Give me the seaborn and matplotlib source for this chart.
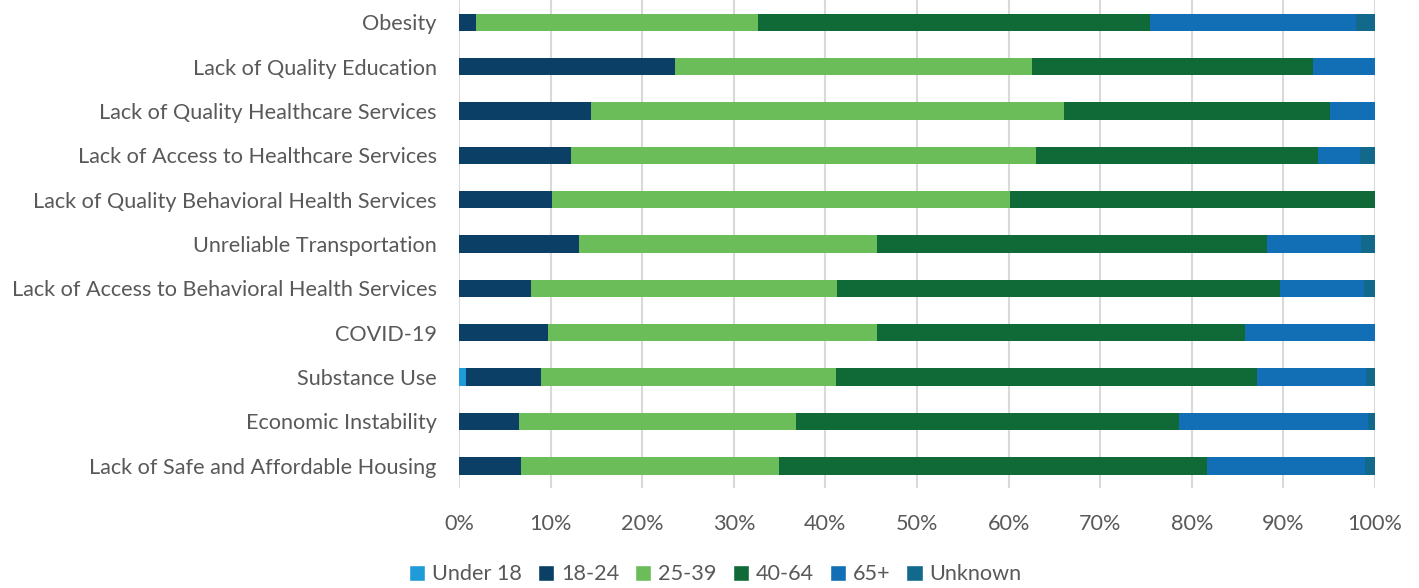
import numpy as np
import pandas as pd
import seaborn as sns
import matplotlib.pyplot as plt
from matplotlib.patches import Patch
import matplotlib.ticker as tick

sns.set_theme(style="white")
plt.rcParams['font.family'] = ['Lato', 'DejaVu Sans']

# data (percent of respondents by age group)
issues = ["Obesity", "Lack of Quality Education", "Lack of Quality Healthcare Services",
          "Lack of Access to Healthcare Services", "Lack of Quality Behavioral Health Services",
          "Unreliable Transportation", "Lack of Access to Behavioral Health Services",
          "COVID-19", "Substance Use", "Economic Instability",
          "Lack of Safe and Affordable Housing"]
age_groups = ["Under 18", "18-24", "25-39", "40-64", "65+", "Unknown"]

under_18 = [0, 0, 0, 0, 0, 0, 0, 0, 0.8, 0, 0]
age_18_24 = [1.9, 23.6, 14.4, 12.2, 10.2, 13.1, 7.9, 9.7, 8.2, 6.5, 6.8]
age_25_39 = [30.7, 39.0, 51.6, 50.8, 50.0, 32.5, 33.4, 35.9, 32.2, 30.3, 28.1]
age_40_64 = [42.8, 30.6, 29.1, 30.8, 39.8, 42.6, 48.3, 40.2, 45.9, 41.8, 46.8]
age_65_up = [22.5, 6.8, 4.9, 4.6, 0, 10.3, 9.2, 14.2, 11.9, 20.6, 17.2]
unknown = [2.1, 0, 0, 1.6, 0, 1.5, 1.2, 0, 1.0, 0.8, 1.1]

colors = ["#1f9bd7", "#0c3f66", "#6abd58", "#0f6a37", "#136fb5", "#12698c"]

df = pd.DataFrame({"Issue": issues, "Under 18": under_18, "18-24": age_18_24,
                   "25-39": age_25_39, "40-64": age_40_64, "65+": age_65_up,
                   "Unknown": unknown})
vals = df[age_groups].to_numpy()
share = vals / vals.sum(axis=1, keepdims=True)
cum = np.cumsum(share, axis=1)

fig = plt.figure(figsize=(14.19, 5.88), dpi=100)
ax = fig.add_axes([0.3235, 0.170, 0.6455, 0.830])

# stacked: draw cumulative totals from last group to first so shorter ones sit on top
for i in range(len(age_groups) - 1, -1, -1):
    sns.barplot(x=cum[:, i], y=df["Issue"], color=colors[i], orient="h",
                width=0.39, saturation=1, ax=ax, linewidth=0)

ax.set_xlim(0, 1)
ax.set_ylim(len(issues) - 0.5, -0.5)
ax.xaxis.set_major_locator(tick.MultipleLocator(0.1))
ax.xaxis.set_major_formatter(tick.PercentFormatter(1.0, decimals=0))
ax.grid(axis="x", color="#d9d9d9", linewidth=1.5)
ax.set_axisbelow(True)
for s in ax.spines.values():
    s.set_visible(False)
ax.set_xlabel("")
ax.set_ylabel("")
ax.tick_params(axis="both", length=0, labelsize=15.6, colors="#595959")
ax.tick_params(axis="x", pad=19)
ax.tick_params(axis="y", pad=16)

handles = [Patch(facecolor=c, label=g) for c, g in zip(colors, age_groups)]
fig.legend(handles=handles, loc="lower center", bbox_to_anchor=(0.504, -0.027),
           ncol=6, frameon=False, fontsize=15.6, handlelength=0.75, handleheight=0.75,
           handletextpad=0.3, columnspacing=0.75, labelcolor="#595959")

fig.savefig("out.png", dpi=100)
